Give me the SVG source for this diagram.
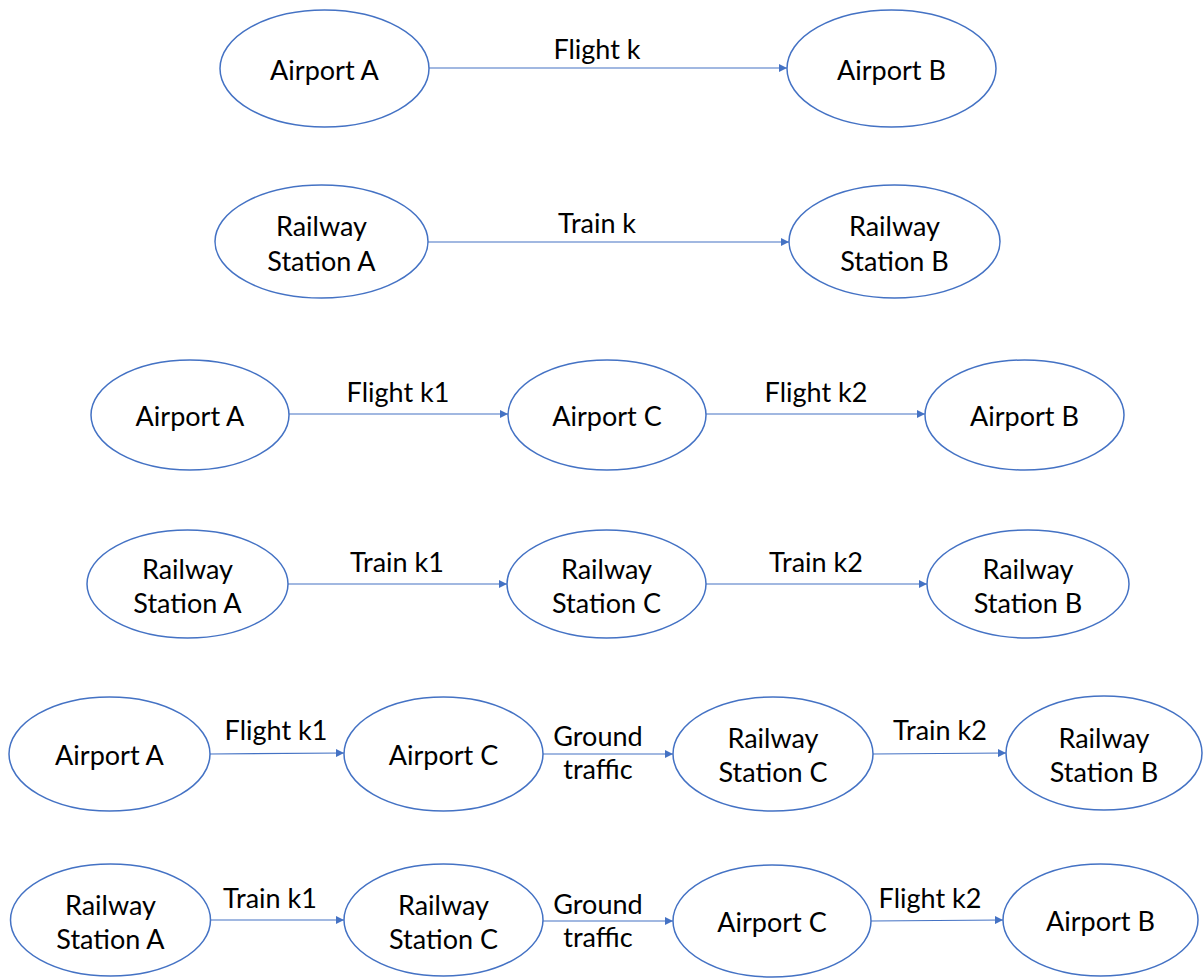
<svg xmlns="http://www.w3.org/2000/svg" width="1203" height="978" viewBox="0 0 1203 978">
<style>
.n{fill:#fff;stroke:#4472C4;stroke-width:1.5}
.t{font-family:Lato,"Open Sans","Liberation Sans",sans-serif;font-size:27px;fill:#000;text-anchor:middle;dominant-baseline:central}
.c{stroke:#4472C4;stroke-width:1.2;fill:none;marker-end:url(#ah)}
</style>
<defs>
<marker id="ah" viewBox="0 0 10 10" refX="10" refY="5" markerWidth="8" markerHeight="8" markerUnits="userSpaceOnUse" orient="auto"><path d="M0,0L10,5L0,10z" fill="#4472C4"/></marker>
</defs>
<rect width="1203" height="978" fill="#fff"/>
<g id="connectors">
<line class="c" x1="429" y1="68" x2="787" y2="68"/>
<line class="c" x1="428" y1="242" x2="789" y2="242"/>
<line class="c" x1="289" y1="414" x2="508" y2="414"/>
<line class="c" x1="706" y1="414" x2="925" y2="414"/>
<line class="c" x1="288" y1="584" x2="507" y2="584"/>
<line class="c" x1="706" y1="584" x2="927" y2="584"/>
<line class="c" x1="210" y1="754" x2="344" y2="753"/>
<line class="c" x1="543" y1="754" x2="673" y2="754"/>
<line class="c" x1="873" y1="754" x2="1006" y2="753"/>
<line class="c" x1="210" y1="920" x2="344" y2="920"/>
<line class="c" x1="543" y1="921" x2="673" y2="921"/>
<line class="c" x1="871" y1="921" x2="1003" y2="920"/>
<text class="t" x="597" y="48">Flight k</text>
<text class="t" x="597" y="222">Train k</text>
<text class="t" x="398" y="391">Flight k1</text>
<text class="t" x="816" y="391">Flight k2</text>
<text class="t" x="397" y="561">Train k1</text>
<text class="t" x="816" y="561">Train k2</text>
<text class="t" x="276" y="729">Flight k1</text>
<text class="t" x="598" y="735">Ground</text>
<text class="t" x="598" y="768">traffic</text>
<text class="t" x="940" y="729">Train k2</text>
<text class="t" x="270" y="897">Train k1</text>
<text class="t" x="598" y="903">Ground</text>
<text class="t" x="598" y="936">traffic</text>
<text class="t" x="930" y="897">Flight k2</text>
</g>
<g id="r1a"><ellipse class="n" cx="324.5" cy="68.5" rx="104.5" ry="58.5"/><text class="t" x="324.5" y="69">Airport A</text></g>
<g id="r1b"><ellipse class="n" cx="891.5" cy="68.5" rx="104.5" ry="58.5"/><text class="t" x="891.5" y="69">Airport B</text></g>
<g id="r2a"><ellipse class="n" cx="321.5" cy="241.5" rx="106.5" ry="56.5"/><text class="t" x="321.5" y="225">Railway</text><text class="t" x="321.5" y="260">Station A</text></g>
<g id="r2b"><ellipse class="n" cx="894.5" cy="241.5" rx="105.5" ry="56.5"/><text class="t" x="894.5" y="225">Railway</text><text class="t" x="894.5" y="260">Station B</text></g>
<g id="r3a"><ellipse class="n" cx="190" cy="415" rx="99" ry="55"/><text class="t" x="190" y="415">Airport A</text></g>
<g id="r3c"><ellipse class="n" cx="607" cy="415" rx="99" ry="55"/><text class="t" x="607" y="415">Airport C</text></g>
<g id="r3b"><ellipse class="n" cx="1024.5" cy="415" rx="99.5" ry="55"/><text class="t" x="1024.5" y="415">Airport B</text></g>
<g id="r4a"><ellipse class="n" cx="187.5" cy="584" rx="100.5" ry="54"/><text class="t" x="187.5" y="568">Railway</text><text class="t" x="187.5" y="602">Station A</text></g>
<g id="r4c"><ellipse class="n" cx="606.5" cy="584" rx="99.5" ry="54"/><text class="t" x="606.5" y="568">Railway</text><text class="t" x="606.5" y="602">Station C</text></g>
<g id="r4b"><ellipse class="n" cx="1028" cy="584" rx="101" ry="54"/><text class="t" x="1028" y="568">Railway</text><text class="t" x="1028" y="602">Station B</text></g>
<g id="r5a"><ellipse class="n" cx="109.5" cy="754" rx="100.5" ry="57"/><text class="t" x="109.5" y="754">Airport A</text></g>
<g id="r5c"><ellipse class="n" cx="443.5" cy="754" rx="99.5" ry="57"/><text class="t" x="443.5" y="754">Airport C</text></g>
<g id="r5rc"><ellipse class="n" cx="773" cy="754" rx="100" ry="57"/><text class="t" x="773" y="737">Railway</text><text class="t" x="773" y="771">Station C</text></g>
<g id="r5rb"><ellipse class="n" cx="1104" cy="753" rx="98" ry="57"/><text class="t" x="1104" y="737">Railway</text><text class="t" x="1104" y="771">Station B</text></g>
<g id="r6ra"><ellipse class="n" cx="110.5" cy="920" rx="100" ry="56"/><text class="t" x="110.5" y="904">Railway</text><text class="t" x="110.5" y="938">Station A</text></g>
<g id="r6rc"><ellipse class="n" cx="443.5" cy="920" rx="99.5" ry="56"/><text class="t" x="443.5" y="904">Railway</text><text class="t" x="443.5" y="938">Station C</text></g>
<g id="r6c"><ellipse class="n" cx="772" cy="921" rx="99" ry="56"/><text class="t" x="772" y="921">Airport C</text></g>
<g id="r6b"><ellipse class="n" cx="1100.5" cy="920" rx="97.5" ry="56"/><text class="t" x="1100.5" y="920">Airport B</text></g>
</svg>
